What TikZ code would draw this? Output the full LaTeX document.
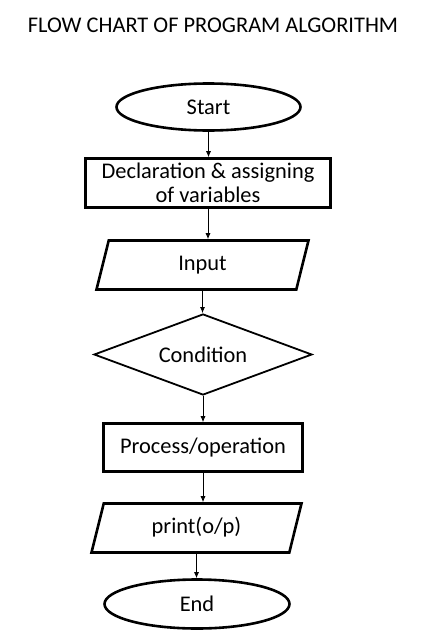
\documentclass[tikz,border=0pt]{standalone}
\usepackage{fontspec}
\setmainfont{Carlito}
\usetikzlibrary{shapes.geometric}
\usetikzlibrary{arrows.meta}

\begin{document}
\begin{tikzpicture}[x=1pt,y=-1pt,
    every node/.style={font=\fontsize{22.4}{24}\selectfont, inner sep=0pt},
    terminal/.style={ellipse, draw, line width=2.6pt},
    stepbox/.style={rectangle, draw, line width=2.6pt, align=center},
    iobox/.style={trapezium, trapezium left angle=76, trapezium right angle=104,
      trapezium stretches body, text height=15pt, text depth=5pt, inner ysep=14.5pt,
      draw, line width=2.6pt},
    decision/.style={diamond, aspect=2.7, draw, line width=1.8pt},
    flow/.style={draw, line width=0.8pt, arrows=-{Latex[length=6pt,width=5pt]}}]
  \useasboundingbox (0,0) rectangle (422,642);
  \node[anchor=base] (title) at (213,33) {FLOW CHART OF PROGRAM ALGORITHM};
  \node[terminal, minimum width=184, minimum height=47] (start) at (208.5,107) {Start};
  \node[stepbox, minimum width=245, minimum height=49] (decl) at (208,183) {Declaration \& assigning\\of variables};
  \node[iobox, minimum width=212] (input) at (202.5,265) {Input};
  \node[decision, minimum width=218, minimum height=81] (cond) at (203,354.5) {Condition};
  \node[stepbox, minimum width=199, minimum height=48] (proc) at (203,447.5) {Process/operation};
  \node[iobox, minimum width=210] (print) at (196.5,528) {print(o/p)};
  \node[terminal, minimum width=185, minimum height=49] (end) at (197,604) {End};
  % connectors
  \draw[flow] (start.south) -- (start.south |- decl.north);
  \draw[flow] (decl.south) -- (decl.south |- input.north);
  \draw[flow] (input.south) -- (input.south |- cond.north);
  \draw[flow] (cond.south) -- (cond.south |- proc.north);
  \draw[flow] (proc.south) -- (proc.south |- print.north);
  \draw[flow] (print.south) -- (print.south |- end.north);
\end{tikzpicture}
\end{document}
